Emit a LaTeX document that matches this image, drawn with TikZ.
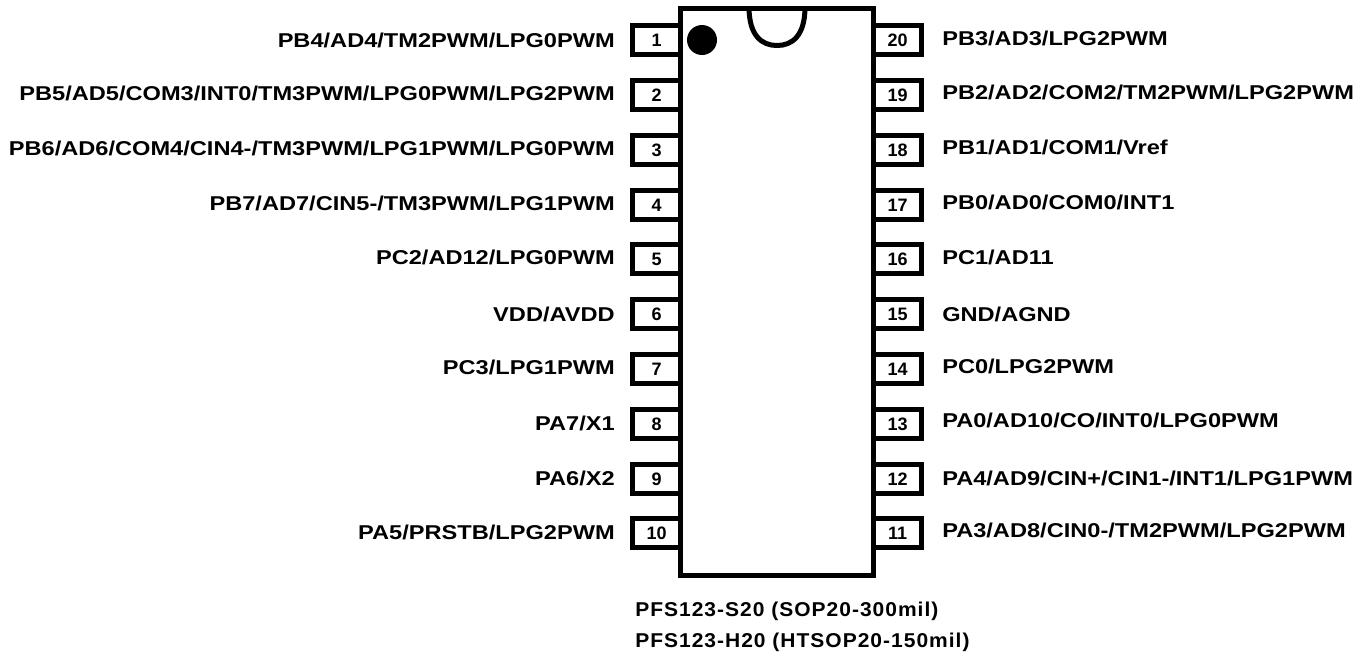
\documentclass[tikz,border=0pt]{standalone}
\usepackage{fontspec}
\setmainfont{Liberation Sans}
\newfontfamily\pinfont[FakeStretch=1.18]{Liberation Sans}
\newfontfamily\partfont[FakeStretch=1.05,LetterSpace=5]{Liberation Sans}
\usepackage{tikz}
\tikzstyle{pinbox} = [draw,fill=white,line width=3.75pt,minimum width=36pt,minimum height=21.75pt,inner sep=0pt,font=\fontsize{13.5pt}{15pt}\selectfont\bfseries]
\tikzstyle{pinlabel} = [inner sep=0pt,font=\pinfont\fontsize{15pt}{17pt}\selectfont\bfseries]
\tikzstyle{partlabel} = [inner sep=0pt,anchor=west,font=\partfont\fontsize{15pt}{17pt}\selectfont\bfseries]

\begin{document}
\begin{tikzpicture}[x=0.75pt,y=-0.75pt]
	\useasboundingbox (0,0) rectangle (1369,657);

	% Left pins:
	\foreach \n/\y/\ly/\txt in {1/40/40/{PB4/AD4/TM2PWM/LPG0PWM},
		2/95/93/{PB5/AD5/COM3/INT0/TM3PWM/LPG0PWM/LPG2PWM},
		3/150/148/{PB6/AD6/COM4/CIN4-/TM3PWM/LPG1PWM/LPG0PWM},
		4/205/203/{PB7/AD7/CIN5-/TM3PWM/LPG1PWM},
		5/259/257/{PC2/AD12/LPG0PWM},
		6/314/314/{VDD/AVDD},
		7/369/367/{PC3/LPG1PWM},
		8/424/423/{PA7/X1},
		9/479/478/{PA6/X2},
		10/533/532/{PA5/PRSTB/LPG2PWM}}
	{
		\node [pinbox] (pin\n) at (656.5,\y) {\n};
		\node [pinlabel,anchor=east] (label\n) at (615,\ly) {\txt};
	}

	% Right pins:
	\foreach \n/\y/\ly/\txt in {20/40/38/{PB3/AD3/LPG2PWM},
		19/95/92/{PB2/AD2/COM2/TM2PWM/LPG2PWM},
		18/150/147/{PB1/AD1/COM1/Vref},
		17/205/202/{PB0/AD0/COM0/INT1},
		16/259/257/{PC1/AD11},
		15/314/314/{GND/AGND},
		14/369/366/{PC0/LPG2PWM},
		13/424/420/{PA0/AD10/CO/INT0/LPG0PWM},
		12/479/478/{PA4/AD9/CIN+/CIN1-/INT1/LPG1PWM},
		11/533/530/{PA3/AD8/CIN0-/TM2PWM/LPG2PWM}}
	{
		\node [pinbox] (pin\n) at (897.5,\y) {\n};
		\node [pinlabel,anchor=west] (label\n) at (942,\ly) {\txt};
	}

	% Package outline, dot and notch:
	\node [draw,fill=white,line width=3.75pt,minimum width=144.75pt,minimum height=425.25pt,inner sep=0pt] (body) at (777,291.5) {};
	\node [circle,fill=black,minimum size=22.5pt,inner sep=0pt] (dot) at (702,40) {};
	\draw [line width=3.75pt] (749,7) .. controls (749,36) and (762,45.5) .. (777,45.5) .. controls (792,45.5) and (805,36) .. (805,7);

	\node [partlabel] (partS) at (635,611) {PFS123-S20 (SOP20-300mil)};
	\node [partlabel] (partH) at (635,642) {PFS123-H20 (HTSOP20-150mil)};
\end{tikzpicture}
\end{document}
